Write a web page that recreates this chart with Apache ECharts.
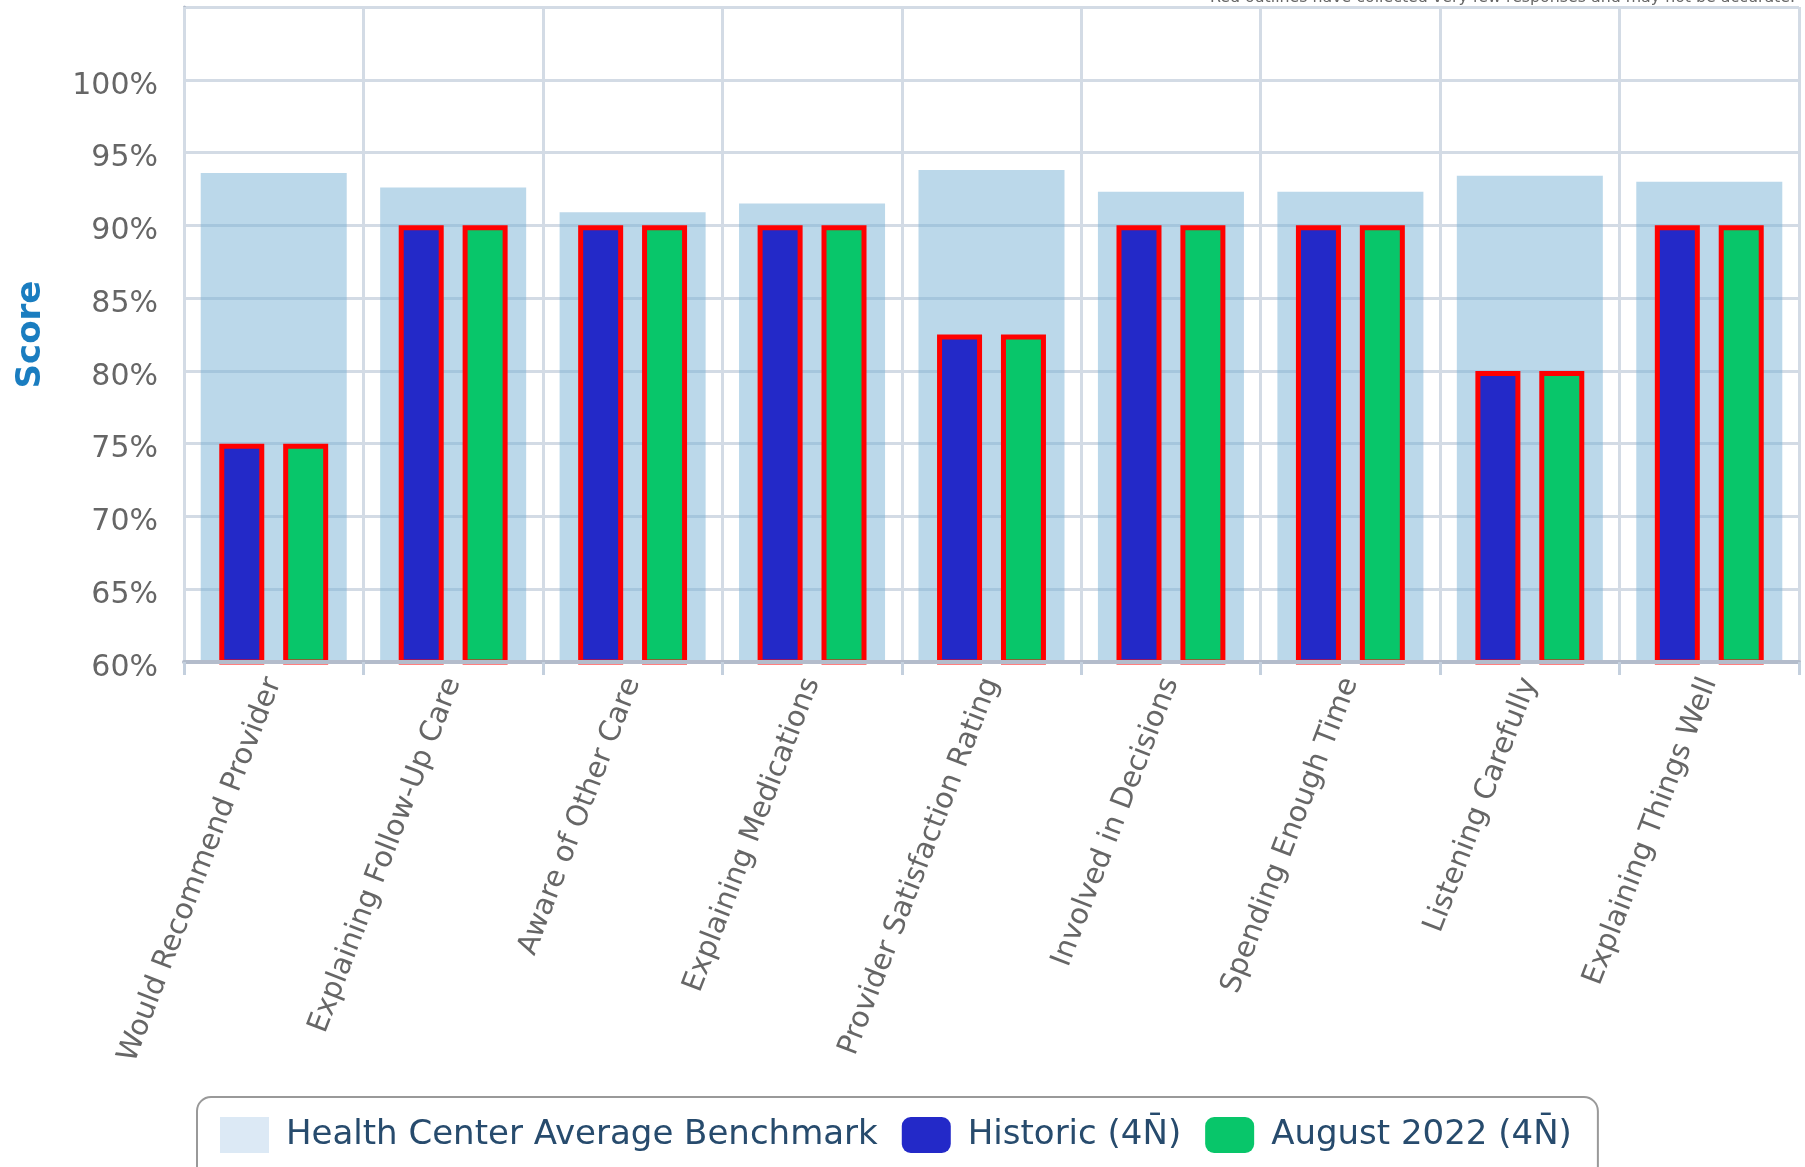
<!DOCTYPE html>
<html>
<head>
<meta charset="utf-8">
<script src="https://cdn.jsdelivr.net/npm/echarts@6/dist/echarts.min.js"></script>
<style>
  html, body { margin: 0; padding: 0; background: #ffffff; }
  #chart { width: 1805px; height: 1167px; }
</style>
</head>
<body>
<div id="chart"></div>
<script>
// Survey measures shown along the x axis
const categories = [
  'Would Recommend Provider',
  'Explaining Follow-Up Care',
  'Aware of Other Care',
  'Explaining Medications',
  'Provider Satisfaction Rating',
  'Involved in Decisions',
  'Spending Enough Time',
  'Listening Carefully',
  'Explaining Things Well'
];

// Scores in percent
const benchmark  = [93.6, 92.6, 90.9, 91.5, 93.8, 92.3, 92.3, 93.4, 93.0];
const historic   = [75, 90, 90, 90, 82.5, 90, 90, 80, 90];
const august2022 = [75, 90, 90, 90, 82.5, 90, 90, 80, 90];

// Series names
const seriesNames = [
  'Health Center Average Benchmark',
  'Historic (4N\u0304)',
  'August 2022 (4N\u0304)'
];

// Value axis range and step
const yMin = 60;
const yMax = 105;
const yStep = 5;

const note = 'Red outlines have collected very few responses and may not be accurate.';

const FONT = 'DejaVu Sans';
const chart = echarts.init(document.getElementById('chart'), null, { renderer: 'canvas' });

chart.setOption({
  animation: false,
  backgroundColor: '#ffffff',
  textStyle: { fontFamily: FONT },
  grid: { left: 184, right: 6, top: 7, bottom: 505 },
  graphic: [{
    type: 'text',
    x: 1795,
    y: 6,
    style: {
      text: note,
      align: 'right',
      verticalAlign: 'bottom',
      fontSize: 15.8,
      fontFamily: FONT,
      fill: '#666666'
    }
  }],
  legend: {
    left: 197,
    top: 1097,
    orient: 'horizontal',
    padding: [20, 26, 30, 23],
    itemWidth: 49,
    itemHeight: 36,
    itemGap: 24,
    borderColor: '#999999',
    borderWidth: 2,
    borderRadius: 14,
    backgroundColor: '#ffffff',
    selectedMode: false,
    textStyle: {
      fontSize: 34,
      color: '#274b6d',
      fontFamily: FONT,
      padding: [0, 0, 0, 12]
    },
    data: [
      { name: seriesNames[0], icon: 'rect', itemStyle: { color: '#dce9f5', borderWidth: 0 } },
      { name: seriesNames[1], icon: 'roundRect', itemStyle: { color: '#2329c8', borderWidth: 0 } },
      { name: seriesNames[2], icon: 'roundRect', itemStyle: { color: '#08c66a', borderWidth: 0 } }
    ]
  },
  xAxis: [
    {
      type: 'category',
      data: categories,
      boundaryGap: true,
      z: 3,
      axisLine: { show: true, lineStyle: { color: '#b3bccb', width: 4 } },
      axisTick: { show: true, length: 13, lineStyle: { color: '#c4d0de', width: 3 } },
      axisLabel: {
        interval: 0,
        rotate: 69,
        margin: 17,
        fontSize: 29,
        color: '#666666',
        fontFamily: FONT
      },
      splitLine: { show: true, lineStyle: { color: '#d3dbe5', width: 3 } }
    },
    {
      type: 'category',
      data: categories,
      show: false
    }
  ],
  yAxis: {
    type: 'value',
    min: yMin,
    max: yMax,
    interval: yStep,
    axisLine: { show: true, lineStyle: { color: '#b3bccb', width: 3 } },
    axisTick: { show: false },
    splitLine: { show: true, lineStyle: { color: '#d3dbe5', width: 3 } },
    axisLabel: {
      formatter: function (v) { return v > 100 ? '' : '{v|' + v + '%}'; },
      margin: 26,
      rich: {
        v: {
          fontSize: 30,
          color: '#666666',
          fontFamily: FONT,
          padding: [12, 0, 0, 0]
        }
      }
    },
    name: 'Score',
    nameLocation: 'middle',
    nameGap: 136,
    nameTextStyle: { fontSize: 34, fontWeight: 'bold', color: '#1a7dc0', fontFamily: FONT }
  },
  series: [
    {
      name: seriesNames[0],
      type: 'bar',
      xAxisIndex: 0,
      data: benchmark,
      barWidth: 146,
      silent: true,
      itemStyle: { color: 'rgba(119,177,213,0.5)' }
    },
    {
      name: seriesNames[1],
      type: 'bar',
      xAxisIndex: 1,
      data: historic,
      barWidth: 45,
      barGap: '42%',
      itemStyle: { color: '#2329c8', borderColor: '#ff0000', borderWidth: 5 }
    },
    {
      name: seriesNames[2],
      type: 'bar',
      xAxisIndex: 1,
      data: august2022,
      barWidth: 45,
      barGap: '42%',
      itemStyle: { color: '#08c66a', borderColor: '#ff0000', borderWidth: 5 }
    }
  ]
});
</script>
</body>
</html>
